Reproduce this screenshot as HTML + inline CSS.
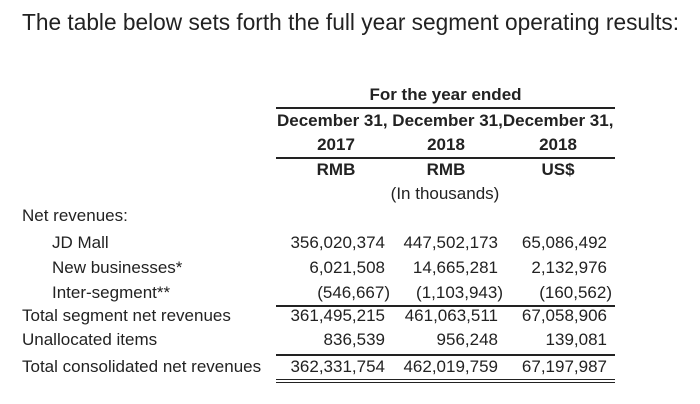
<!DOCTYPE html>
<html><head><meta charset="utf-8"><style>
body{margin:0;width:700px;height:404px;background:#fff;font-family:"Liberation Sans",sans-serif;color:#222;position:relative;overflow:hidden}
.t{position:absolute;white-space:nowrap;font-size:17px;line-height:20px}
.b{font-weight:bold}
.r{text-align:right}
.c{text-align:center}
.ln{position:absolute;left:276px;width:339px;height:1.5px;background:#222}
</style></head><body>
<div class="t" style="left:22px;top:9px;font-size:22.7px;line-height:26px">The table below sets forth the full year segment operating results:</div>

<div class="t b c" style="left:276px;width:339px;top:85px">For the year ended</div>
<div class="ln" style="top:107px"></div>
<div class="t b" style="left:277px;top:111px">December 31, December 31,December 31,</div>
<div class="t b c" style="left:280px;width:112px;top:135px">2017</div>
<div class="t b c" style="left:390px;width:112px;top:135px">2018</div>
<div class="t b c" style="left:502px;width:112px;top:135px">2018</div>
<div class="ln" style="top:157px"></div>
<div class="t b c" style="left:280px;width:112px;top:160px">RMB</div>
<div class="t b c" style="left:390px;width:112px;top:160px">RMB</div>
<div class="t b c" style="left:502px;width:112px;top:160px">US$</div>
<div class="t c" style="left:380px;width:130px;top:184px">(In thousands)</div>

<div class="ln" style="top:305px"></div>
<div class="ln" style="top:354px"></div>
<div class="ln" style="top:379px;height:1px"></div>
<div class="ln" style="top:382px;height:1px"></div>

<script>
const labels=["Net revenues:","JD Mall","New businesses*","Inter-segment**","Total segment net revenues","Unallocated items","Total consolidated net revenues"];
const indent=[0,1,1,1,0,0,0];
const col2017=["","356,020,374","6,021,508","(546,667)","361,495,215","836,539","362,331,754"];
const col2018=["","447,502,173","14,665,281","(1,103,943)","461,063,511","956,248","462,019,759"];
const colUsd=["","65,086,492","2,132,976","(160,562)","67,058,906","139,081","67,197,987"];
const tops=[206,233,258,283,306,330,357];
const host=document.body;
function mk(txt,l,t,w,right,name){
 const d=document.createElement('div');
 d.className='t'+(right?' r':'');
 d.style.left=l+'px';d.style.top=t+'px';
 if(w)d.style.width=w+'px';
 d.textContent=txt;
 
 
 host.appendChild(d);
}
labels.forEach((lab,i)=>{
 mk(lab,indent[i]?52:22,tops[i],0,false,'row-label-'+i);
 if(col2017[i]){
  const adj=col2017[i].startsWith('(')?5:0;
  mk(col2017[i],270,tops[i],115+adj,true,'value-2017-'+i);
  mk(col2018[i],380,tops[i],118+adj,true,'value-2018-'+i);
  mk(colUsd[i],490,tops[i],117+adj,true,'value-usd-'+i);
 }
});
</script>
</body></html>
